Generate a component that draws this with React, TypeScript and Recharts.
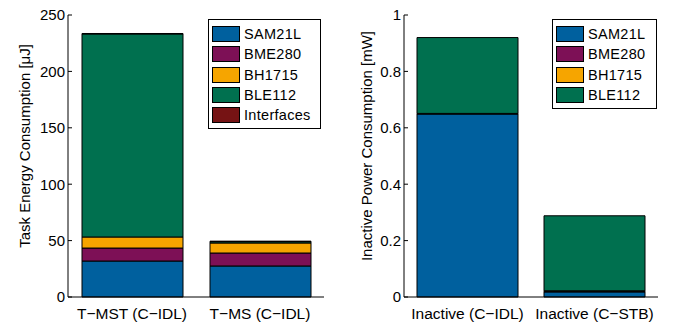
import { BarChart, Bar, XAxis, YAxis } from 'recharts'

const taskCategories = ['T\u2212MST (C\u2212IDL)', 'T\u2212MS (C\u2212IDL)']
const taskSam21l = [31.9, 27.5]
const taskBme280 = [11.5, 11.5]
const taskBh1715 = [9.8, 8.9]
const taskBle112 = [180, 1.2]
const taskInterfaces = [0.4, 0.4]
const taskTicks = [0, 50, 100, 150, 200, 250]

const inactiveCategories = ['Inactive (C\u2212IDL)', 'Inactive (C\u2212STB)']
const inactiveSam21l = [0.649, 0.018]
const inactiveBme280 = [0.001, 0.002]
const inactiveBh1715 = [0.001, 0.002]
const inactiveBle112 = [0.269, 0.266]
const inactiveTicks = [0, 0.2, 0.4, 0.6, 0.8, 1]

const COLORS = {
  sam21l: '#00609e',
  bme280: '#7d1056',
  bh1715: '#f6a500',
  ble112: '#00704f',
  interfaces: '#761314',
}

const FONT = '"Liberation Sans", Arial, Helvetica, sans-serif'

const taskData = taskCategories.map((name, i) => ({
  name,
  SAM21L: taskSam21l[i],
  BME280: taskBme280[i],
  BH1715: taskBh1715[i],
  BLE112: taskBle112[i],
  Interfaces: taskInterfaces[i],
}))

const inactiveData = inactiveCategories.map((name, i) => ({
  name,
  SAM21L: inactiveSam21l[i],
  BME280: inactiveBme280[i],
  BH1715: inactiveBh1715[i],
  BLE112: inactiveBle112[i],
}))

type Item = { key: string; color: string }

function BoxLegend({ items, left, top, width }: { items: Item[]; left: number; top: number; width: number }) {
  return (
    <div
      style={{
        position: 'absolute',
        left,
        top,
        width,
        border: '1px solid #000',
        background: '#fff',
        padding: '4px 0 3px 3px',
        fontFamily: FONT,
        fontSize: 14.5,
        color: '#000',
        boxSizing: 'border-box',
      }}
    >
      {items.map((it) => (
        <div key={it.key} style={{ display: 'flex', alignItems: 'center', height: 20.3, letterSpacing: 0.3 }}>
          <div
            style={{
              width: 28,
              height: 16,
              background: it.color,
              border: '1px solid #000',
              boxSizing: 'border-box',
              marginRight: 4,
              flexShrink: 0,
            }}
          />
          <span>{it.key}</span>
        </div>
      ))}
    </div>
  )
}

function AxisTitle({ text, x, y }: { text: string; x: number; y: number }) {
  return (
    <div
      style={{
        position: 'absolute',
        left: x,
        top: y,
        transform: 'translate(-50%, -50%) rotate(-90deg)',
        fontFamily: FONT,
        fontSize: 15,
        lineHeight: '15px',
        whiteSpace: 'nowrap',
        color: '#000',
      }}
    >
      {text}
    </div>
  )
}

const xTickStyle = { fontSize: 15.5, fill: '#000', fontFamily: FONT }
const yTickStyle = { fontSize: 15, fill: '#000', fontFamily: FONT }

export default function App() {
  const taskItems: Item[] = [
    { key: 'SAM21L', color: COLORS.sam21l },
    { key: 'BME280', color: COLORS.bme280 },
    { key: 'BH1715', color: COLORS.bh1715 },
    { key: 'BLE112', color: COLORS.ble112 },
    { key: 'Interfaces', color: COLORS.interfaces },
  ]
  const inactiveItems = taskItems.slice(0, 4)

  return (
    <div style={{ position: 'absolute', left: 0, top: 0, width: 680, height: 323, background: '#fff', display: 'flex' }}>
      <div style={{ position: 'relative', width: 340, height: 323 }}>
        <BarChart
          width={340}
          height={323}
          data={taskData}
          margin={{ top: 15, right: 16, bottom: 0, left: 0 }}
          barSize={101}
        >
          <XAxis
            dataKey="name"
            tick={xTickStyle}
            tickLine={false}
            tickMargin={5}
            height={26}
            axisLine={{ stroke: '#000' }}
          />
          <XAxis xAxisId="top" dataKey="name" orientation="top" height={0} tick={false} tickLine={false} axisLine={{ stroke: '#000' }} />
          <YAxis
            domain={[0, 250]}
            ticks={taskTicks}
            width={68}
            tick={yTickStyle}
            tickSize={-4}
            tickMargin={7}
            tickLine={{ stroke: '#000' }}
            axisLine={{ stroke: '#000' }}
          />
          <YAxis
            yAxisId="r"
            orientation="right"
            domain={[0, 250]}
            ticks={taskTicks}
            width={0}
            tick={false}
            tickSize={-4}
            tickLine={{ stroke: '#000' }}
            axisLine={{ stroke: '#000' }}
          />
          <Bar dataKey="SAM21L" stackId="a" fill={COLORS.sam21l} stroke="#000" isAnimationActive={false} />
          <Bar dataKey="BME280" stackId="a" fill={COLORS.bme280} stroke="#000" isAnimationActive={false} />
          <Bar dataKey="BH1715" stackId="a" fill={COLORS.bh1715} stroke="#000" isAnimationActive={false} />
          <Bar dataKey="BLE112" stackId="a" fill={COLORS.ble112} stroke="#000" isAnimationActive={false} />
          <Bar dataKey="Interfaces" stackId="a" fill={COLORS.interfaces} stroke="#000" isAnimationActive={false} />
        </BarChart>
        <AxisTitle text={'Task Energy Consumption [\u03bcJ]'} x={24} y={146} />
        <BoxLegend items={taskItems} left={208} top={19} width={113} />
      </div>
      <div style={{ position: 'relative', width: 340, height: 323 }}>
        <BarChart
          width={340}
          height={323}
          data={inactiveData}
          margin={{ top: 15, right: 22, bottom: 0, left: 0 }}
          barSize={101}
        >
          <XAxis
            dataKey="name"
            tick={xTickStyle}
            tickLine={false}
            tickMargin={5}
            height={26}
            axisLine={{ stroke: '#000' }}
          />
          <XAxis xAxisId="top" dataKey="name" orientation="top" height={0} tick={false} tickLine={false} axisLine={{ stroke: '#000' }} />
          <YAxis
            domain={[0, 1]}
            ticks={inactiveTicks}
            width={64}
            tick={yTickStyle}
            tickSize={-4}
            tickMargin={7}
            tickLine={{ stroke: '#000' }}
            axisLine={{ stroke: '#000' }}
          />
          <YAxis
            yAxisId="r"
            orientation="right"
            domain={[0, 1]}
            ticks={inactiveTicks}
            width={0}
            tick={false}
            tickSize={-4}
            tickLine={{ stroke: '#000' }}
            axisLine={{ stroke: '#000' }}
          />
          <Bar dataKey="SAM21L" stackId="a" fill={COLORS.sam21l} stroke="#000" isAnimationActive={false} />
          <Bar dataKey="BME280" stackId="a" fill={COLORS.bme280} stroke="#000" isAnimationActive={false} />
          <Bar dataKey="BH1715" stackId="a" fill={COLORS.bh1715} stroke="#000" isAnimationActive={false} />
          <Bar dataKey="BLE112" stackId="a" fill={COLORS.ble112} stroke="#000" isAnimationActive={false} />
        </BarChart>
        <AxisTitle text="Inactive Power Consumption [mW]" x={26} y={146} />
        <BoxLegend items={inactiveItems} left={212} top={19} width={105} />
      </div>
    </div>
  )
}
